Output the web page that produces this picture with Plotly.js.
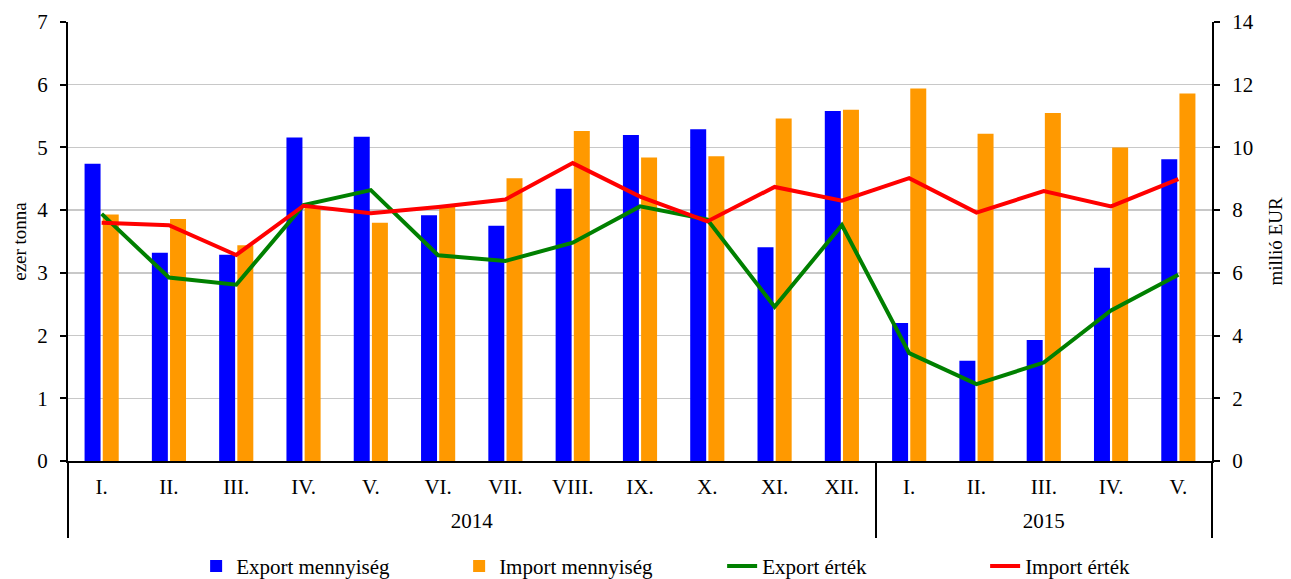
<!DOCTYPE html>
<html>
<head>
<meta charset="utf-8">
<script src="https://cdn.plot.ly/plotly-3.0.1.min.js"></script>
<style>html,body{margin:0;padding:0;background:#fff;}#chart{width:1291px;height:579px;}</style>
</head>
<body>
<div id="chart"></div>
<script>
const years = ["2014","2014","2014","2014","2014","2014","2014","2014","2014","2014","2014","2014","2015","2015","2015","2015","2015"];
const months = ["I.","II.","III.","IV.","V.","VI.","VII.","VIII.","IX.","X.","XI.","XII.","I.","II.","III.","IV.","V."];
const exportQty = [4.74,3.32,3.29,5.16,5.17,3.92,3.75,4.34,5.20,5.29,3.41,5.58,2.20,1.60,1.93,3.08,4.81];
const importQty = [3.93,3.86,3.44,4.06,3.80,4.05,4.51,5.26,4.84,4.86,5.46,5.60,5.94,5.22,5.55,5.00,5.86];
const exportVal = [7.88,5.85,5.62,8.16,8.64,6.56,6.38,6.96,8.12,7.70,4.92,7.52,3.44,2.45,3.14,4.80,5.94];
const importVal = [7.60,7.52,6.57,8.14,7.90,8.10,8.34,9.50,8.43,7.64,8.74,8.30,9.02,7.92,8.61,8.12,8.99];

// unique category keys, month names shown as tick text
const cats = years.map((y, i) => y + "-" + months[i]);
const n = cats.length;
const idx = cats.map((_, i) => i);

// year groups: label centres and boundaries
const yearList = [...new Set(years)];
const yearCenters = yearList.map(y => {
  const ii = idx.filter(i => years[i] === y);
  return (ii[0] + ii[ii.length - 1]) / 2;
});
const boundaries = [-0.5];
yearList.forEach(y => {
  const ii = idx.filter(i => years[i] === y);
  boundaries.push(ii[ii.length - 1] + 0.5);
});

const fam = "Liberation Serif, Times New Roman, serif";
const font = {family: fam, size: 21, color: "#000"};
const range = [-0.5, n - 0.5];

const data = [
  {type: "bar", name: "Export mennyiség", x: cats, y: exportQty, marker: {color: "#0000ff"}, yaxis: "y"},
  {type: "bar", name: "Import mennyiség", x: cats, y: importQty, marker: {color: "#ff9900"}, yaxis: "y"},
  {type: "scatter", mode: "lines", name: "Export érték", x: cats, y: exportVal, line: {color: "#008000", width: 4}, yaxis: "y2"},
  {type: "scatter", mode: "lines", name: "Import érték", x: cats, y: importVal, line: {color: "#ff0000", width: 4}, yaxis: "y2"},
  // carriers for the year-label axis and the year-divider axis (draw nothing)
  {type: "scatter", mode: "none", x: yearCenters, y: yearCenters.map(() => 0), xaxis: "x2", yaxis: "y",
   showlegend: false, hoverinfo: "skip"},
  {type: "scatter", mode: "none", x: boundaries, y: boundaries.map(() => 0), xaxis: "x3", yaxis: "y",
   showlegend: false, hoverinfo: "skip"}
];

const layout = {
  width: 1291, height: 579,
  margin: {l: 68, r: 79, t: 22, b: 118},
  paper_bgcolor: "#fff", plot_bgcolor: "#fff",
  font: font,
  barmode: "group", bargap: 0.46, bargroupgap: 0.12,
  showlegend: true,
  legend: {orientation: "h", x: 0.112, xanchor: "left", yref: "container", y: 0.022, yanchor: "middle",
           entrywidth: 218, entrywidthmode: "pixels",
           font: font, traceorder: "normal"},
  xaxis: {
    type: "category", range: range,
    tickmode: "array", tickvals: cats, ticktext: months,
    showline: true, linecolor: "#000", linewidth: 2,
    ticks: "", showgrid: false, tickfont: font, ticklabelstandoff: 6, zeroline: false
  },
  xaxis2: {
    type: "linear", range: range, overlaying: "x", anchor: "y", side: "bottom",
    tickmode: "array", tickvals: yearCenters, ticktext: yearList,
    ticks: "", showgrid: false, showline: false, zeroline: false,
    tickfont: font, ticklabelstandoff: 45
  },
  xaxis3: {
    type: "linear", range: range, overlaying: "x", anchor: "y", side: "bottom",
    tickmode: "array", tickvals: boundaries, showticklabels: false,
    ticks: "outside", ticklen: 76, tickwidth: 2, tickcolor: "#000",
    showgrid: false, showline: false, zeroline: false
  },
  yaxis: {
    range: [0, 7], dtick: 1, showgrid: true, gridcolor: "#c8c8c8", gridwidth: 1.5,
    showline: true, linecolor: "#000", linewidth: 2,
    ticks: "outside", ticklen: 6, tickwidth: 2, tickcolor: "#000",
    ticklabelstandoff: 8,
    zeroline: false, tickfont: font,
    title: {text: "ezer tonna", font: {family: fam, size: 19, color: "#000"}, standoff: 6}
  },
  yaxis2: {
    range: [0, 14], dtick: 2, overlaying: "y", side: "right", showgrid: false,
    showline: true, linecolor: "#000", linewidth: 2,
    ticks: "outside", ticklen: 6, tickwidth: 2, tickcolor: "#000",
    ticklabelstandoff: 8,
    zeroline: false, tickfont: font,
    title: {text: "millió EUR", font: {family: fam, size: 19, color: "#000"}, standoff: 16}
  }
};

Plotly.newPlot("chart", data, layout, {displayModeBar: false, staticPlot: true});
</script>
</body>
</html>
